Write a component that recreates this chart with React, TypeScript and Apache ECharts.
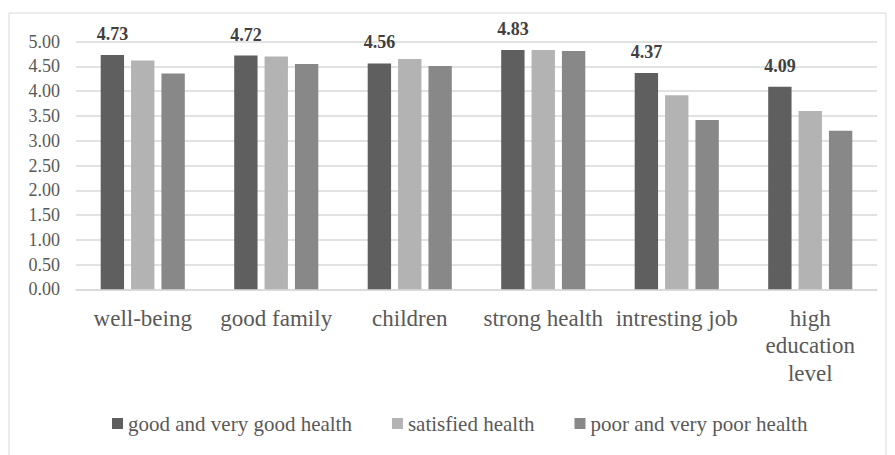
import React, { useEffect, useRef } from "react";
import * as echarts from "echarts";

const categories = ["well-being", "good family", "children", "strong health", "intresting job", "high education level"];
const xTickLabels = ["well-being", "good family", "children", "strong health", "intresting job", "high\neducation\nlevel"];
const seriesNames = ["good and very good health", "satisfied health", "poor and very poor health"];
const goodHealth = [4.73, 4.72, 4.56, 4.83, 4.37, 4.09];
const satisfiedHealth = [4.62, 4.7, 4.65, 4.83, 3.92, 3.6];
const poorHealth = [4.36, 4.55, 4.51, 4.81, 3.42, 3.2];
const colors = ["#5f5f5f", "#b3b3b3", "#888888"];

const FONT = "Liberation Serif";

export default function App() {
  const ref = useRef<HTMLDivElement>(null);
  useEffect(() => {
    if (!ref.current) return;
    const chart = echarts.init(ref.current, null, { renderer: "svg" });
    const mk = (i: number, data: number[], withLabel: boolean) => ({
      name: seriesNames[i],
      type: "bar",
      data,
      itemStyle: { color: colors[i] },
      barGap: "30%",
      barCategoryGap: "37%",
      label: withLabel
        ? {
            show: true,
            position: "top",
            distance: 12,
            fontFamily: FONT,
            fontWeight: "bold",
            fontSize: 18,
            color: "#404040",
            formatter: (p: any) => p.value.toFixed(2),
          }
        : { show: false },
    });
    chart.setOption({
      animation: false,
      textStyle: { fontFamily: FONT },
      graphic: [
        {
          type: "rect",
          shape: { x: 9, y: 13, width: 877, height: 480 },
          style: { fill: "none", stroke: "#d9d9d9", lineWidth: 1 },
          silent: true,
          z: -10,
        },
      ],
      grid: { left: 76, right: 18, top: 41.7, bottom: 165.7 },
      legend: {
        data: seriesNames,
        left: 112,
        top: 413,
        padding: 0,
        itemGap: 40,
        itemWidth: 11,
        itemHeight: 11,
        icon: "rect",
        textStyle: { fontFamily: FONT, fontSize: 21, color: "#595959" },
      },
      xAxis: {
        type: "category",
        data: categories,
        axisLine: { lineStyle: { color: "#d9d9d9", width: 1.5 } },
        axisTick: { show: false },
        axisLabel: {
          interval: 0,
          margin: 15,
          fontFamily: FONT,
          fontSize: 23,
          lineHeight: 27.5,
          color: "#595959",
          formatter: (_v: string, idx: number) => xTickLabels[idx],
        },
      },
      yAxis: {
        type: "value",
        min: 0,
        max: 5,
        interval: 0.5,
        axisLine: { show: false },
        axisTick: { show: false },
        splitLine: { lineStyle: { color: "#d9d9d9", width: 1.5 } },
        axisLabel: {
          margin: 16,
          fontFamily: FONT,
          fontSize: 18,
          color: "#595959",
          formatter: (v: number) => v.toFixed(2),
        },
      },
      series: [mk(0, goodHealth, true), mk(1, satisfiedHealth, false), mk(2, poorHealth, false)],
    });
    return () => chart.dispose();
  }, []);
  return (
    <div
      ref={ref}
      style={{ position: "fixed", left: 0, top: 0, width: 895, height: 455, background: "#ffffff" }}
    />
  );
}
